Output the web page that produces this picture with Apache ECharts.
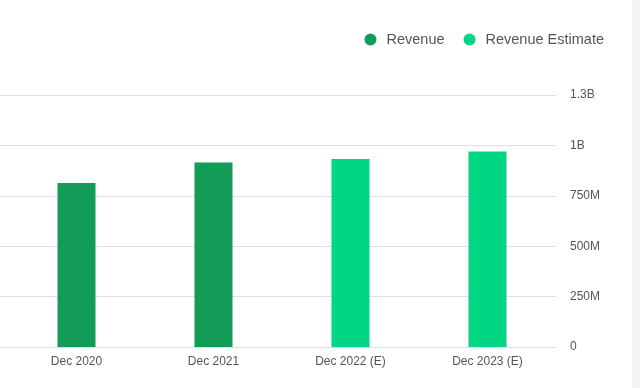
<!DOCTYPE html>
<html>
<head>
<meta charset="utf-8">
<script src="https://cdn.jsdelivr.net/npm/echarts@6/dist/echarts.min.js"></script>
<style>html,body{margin:0;padding:0;background:#fff;}#c{width:640px;height:388px;}</style>
</head>
<body>
<div id="c"></div>
<script>
const categories = ["Dec 2020", "Dec 2021", "Dec 2022 (E)", "Dec 2023 (E)"];
const revenue = [813e6, 915e6, null, null];
const revenueEstimate = [null, null, 932e6, 970e6];
const yTicks = { min: 0, max: 1.25e9, interval: 0.25e9 };

function fmt(v) {
  if (v === 0) return "0";
  if (v >= 1e9) return parseFloat((v / 1e9).toFixed(1)) + "B";
  if (v >= 1e6) return parseFloat((v / 1e6).toFixed(1)) + "M";
  return String(v);
}

const chart = echarts.init(document.getElementById('c'), null, { renderer: 'canvas' });
chart.setOption({
  animation: false,
  textStyle: { fontFamily: 'Liberation Sans, Arial, sans-serif' },
  legend: {
    right: 31, top: 27,
    icon: 'circle', itemWidth: 22, itemHeight: 12, itemGap: 19,
    textStyle: { fontSize: 14.5, color: '#555' },
    data: ['Revenue', 'Revenue Estimate']
  },
  grid: [
    { left: 8, right: 84, top: 95, bottom: 41 },
    { left: 0, right: 84, top: 95, bottom: 41 }
  ],
  xAxis: [
    { type: 'category', data: categories, gridIndex: 0,
      axisLine: { show: false }, axisTick: { show: false },
      axisLabel: { color: '#555', fontSize: 12, margin: 9 } },
    { type: 'value', gridIndex: 1, show: false }
  ],
  yAxis: [
    { type: 'value', position: 'right', gridIndex: 0,
      min: yTicks.min, max: yTicks.max, interval: yTicks.interval,
      axisLine: { show: false }, axisTick: { show: false },
      axisLabel: { color: '#555', fontSize: 12, margin: 14, formatter: fmt },
      splitLine: { show: false } },
    { type: 'value', position: 'right', gridIndex: 1,
      min: yTicks.min, max: yTicks.max, interval: yTicks.interval,
      axisLine: { show: false }, axisTick: { show: false }, axisLabel: { show: false },
      splitLine: { lineStyle: { color: '#e0e0e0', width: 1 } } }
  ],
  series: [
    { name: 'Revenue', type: 'bar', stack: 's', barWidth: 38, data: revenue,
      itemStyle: { color: '#139c58' } },
    { name: 'Revenue Estimate', type: 'bar', stack: 's', barWidth: 38, data: revenueEstimate,
      itemStyle: { color: '#00d683' } }
  ],
  graphic: [
    { type: 'rect', right: 0, top: 0, shape: { width: 8, height: 388 },
      style: { fill: '#f4f4f8' }, silent: true }
  ]
});
</script>
</body>
</html>
